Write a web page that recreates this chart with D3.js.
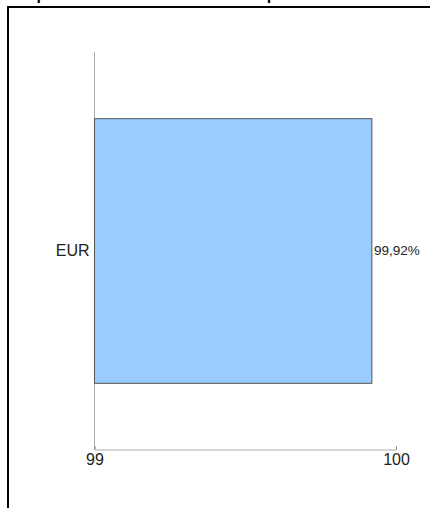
<!DOCTYPE html>
<html><head><meta charset="utf-8">
<script src="https://cdn.jsdelivr.net/npm/d3@7"></script>
<style>body{margin:0;background:#fff;} svg{display:block;font-family:"Liberation Sans",Arial,sans-serif;}</style>
</head><body>
<script>
const title = "Composición de la cartera total en pesos";
const categories = ["EUR"];
const values = [99.92];
const valueLabels = ["99,92%"];
const xTicks = [99, 100];

const W = 430, H = 508;
const svg = d3.select("body").append("svg").attr("width", W).attr("height", H);

svg.append("text").attr("x", 1).attr("y", 0).attr("font-weight", "bold")
  .attr("font-size", 16).attr("fill", "#000").text(title);

svg.append("rect").attr("x", 8).attr("y", 7).attr("width", W + 20).attr("height", H + 20)
  .attr("fill", "none").attr("stroke", "#000").attr("stroke-width", 2);

const x = d3.scaleLinear().domain([99, 100]).range([94.5, 396]);
const y = d3.scaleBand().domain(categories).range([52, 449]).paddingInner(0.2).paddingOuter(0.2);

// y axis line
svg.append("line").attr("x1", x(99)).attr("x2", x(99)).attr("y1", 52).attr("y2", 449)
  .attr("stroke", "#aaa").attr("stroke-width", 1);

// bars
svg.selectAll("rect.bar").data(values).join("rect").attr("class", "bar")
  .attr("x", x(99)).attr("y", (d, i) => y(categories[i]) + 0.5)
  .attr("width", d => x(d) - x(99)).attr("height", y.bandwidth())
  .attr("fill", "#99ccff").attr("stroke", "#555").attr("stroke-width", 1);

// x axis
const xAxis = svg.append("g").attr("transform", "translate(0,449.5)")
  .call(d3.axisBottom(x).tickValues(xTicks).tickFormat(d3.format("d")).tickSize(-3).tickPadding(4));
xAxis.select(".domain").attr("stroke", "#aaa");
xAxis.selectAll(".tick line").attr("stroke", "#888");
xAxis.selectAll(".tick text").attr("font-size", 16).attr("fill", "#222")
  .attr("font-family", "Liberation Sans, Arial, sans-serif");

// category labels
svg.selectAll("text.cat").data(categories).join("text").attr("class", "cat")
  .attr("x", x(99) - 5).attr("y", d => y(d) + y.bandwidth() / 2)
  .attr("dy", "0.35em").attr("text-anchor", "end").attr("font-size", 16).attr("fill", "#222").text(d => d);

// value labels
svg.selectAll("text.val").data(values).join("text").attr("class", "val")
  .attr("x", d => x(d) + 2).attr("y", (d, i) => y(categories[i]) + y.bandwidth() / 2)
  .attr("dy", "0.35em").attr("font-size", 13.5).attr("fill", "#222").text((d, i) => valueLabels[i]);
</script>
</body></html>
